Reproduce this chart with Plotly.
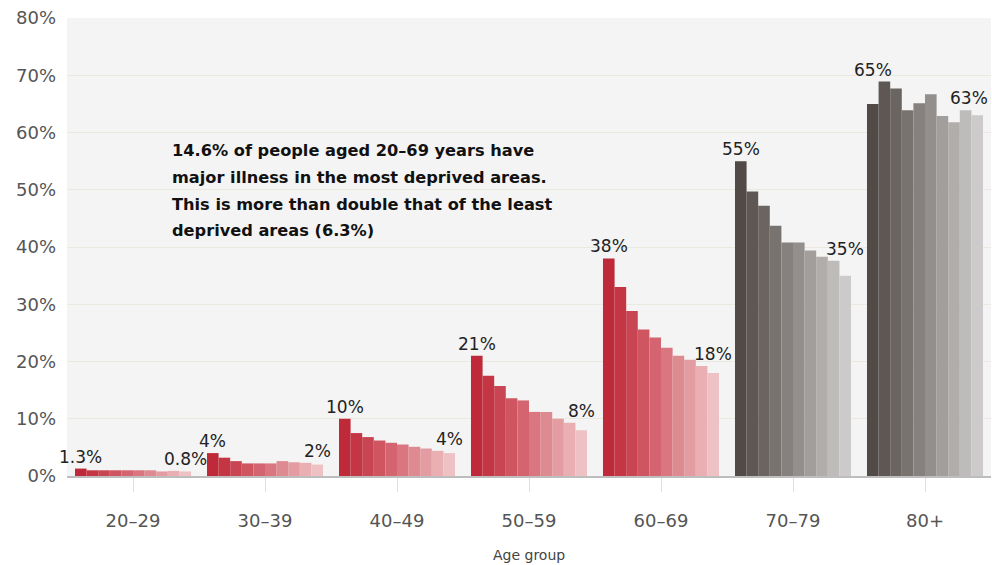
import plotly.graph_objects as go

# Share of people with major illness, by age group and deprivation decile
# (decile 1 = most deprived ... decile 10 = least deprived)
age_groups = ["20–29", "30–39", "40–49", "50–59", "60–69", "70–79", "80+"]
decile_1 = [1.3, 4.0, 10.0, 21.0, 38.0, 55.0, 65.0]
decile_2 = [1.0, 3.2, 7.5, 17.5, 33.0, 49.7, 68.9]
decile_3 = [1.0, 2.6, 6.8, 15.7, 28.8, 47.2, 67.7]
decile_4 = [1.0, 2.2, 6.2, 13.6, 25.6, 43.7, 63.9]
decile_5 = [1.0, 2.2, 5.8, 13.2, 24.2, 40.8, 65.1]
decile_6 = [1.0, 2.2, 5.5, 11.2, 22.4, 40.8, 66.7]
decile_7 = [1.0, 2.6, 5.1, 11.2, 21.0, 39.4, 62.9]
decile_8 = [0.8, 2.4, 4.8, 10.0, 20.3, 38.3, 61.8]
decile_9 = [0.9, 2.3, 4.4, 9.3, 19.2, 37.6, 63.9]
decile_10 = [0.8, 2.0, 4.0, 8.0, 18.0, 35.0, 63.0]
deciles = [decile_1, decile_2, decile_3, decile_4, decile_5,
           decile_6, decile_7, decile_8, decile_9, decile_10]

y_ticks = [0, 10, 20, 30, 40, 50, 60, 70, 80]
y_tick_text = [f"{v}%" for v in y_ticks]

note_lines = [
    "14.6% of people aged 20–69 years have",
    "major illness in the most deprived areas.",
    "This is more than double that of the least",
    "deprived areas (6.3%)",
]

reds = ["#bf2a3a", "#c53645", "#ca4553", "#cf5561", "#d4646f",
        "#d9767f", "#de8a91", "#e39ca2", "#e9afb3", "#eec2c5"]
greys = ["#524a46", "#5e5753", "#6b6562", "#78736f", "#86817e",
         "#938f8d", "#a29e9c", "#b0adab", "#bebbbb", "#cccaca"]

BARGAP = 0.121
n_dec = len(deciles)
bar_w = (1 - BARGAP) / n_dec

fig = go.Figure()
for j, vals in enumerate(deciles):
    colors = [reds[j] if i < 5 else greys[j] for i in range(len(age_groups))]
    fig.add_trace(go.Bar(
        x=age_groups, y=vals, marker=dict(color=colors, line=dict(width=0)),
        name=f"Decile {j + 1}", showlegend=False, hoverinfo="x+y",
    ))

label_font = dict(family="DejaVu Sans", size=17, color="#222222")


def fmt(v):
    return f"{v:g}%"


# value labels above the first and last bar of each age group
n_groups = len(age_groups)
for i, g in enumerate(age_groups):
    first_x = i - (1 - BARGAP) / 2 + 0.5 * bar_w
    last_x = i + (1 - BARGAP) / 2 - 0.5 * bar_w
    first_top = max(decile_1[i], decile_2[i])
    last_top = max(decile_9[i], decile_10[i])
    fig.add_annotation(x=first_x, y=first_top, xref="x", yref="y",
                       text=fmt(decile_1[i]), showarrow=False,
                       yanchor="bottom", yshift=0, font=label_font)
    # keep the right-most label inside the canvas
    edge_shift = -8 if i == n_groups - 1 else 0
    fig.add_annotation(x=last_x, y=last_top, xref="x", yref="y",
                       text=fmt(decile_10[i]), showarrow=False,
                       yanchor="bottom", yshift=0, xshift=edge_shift,
                       font=label_font)

# explanatory note
note_font = dict(family="DejaVu Sans", size=16.2, color="#111111", weight="bold")
for k, line in enumerate(note_lines):
    fig.add_annotation(x=0.1115, y=56.8 - k * 4.65, xref="paper", yref="y",
                       text=line, showarrow=False, xanchor="left",
                       yanchor="middle", font=note_font)

fig.add_annotation(x=0.5, y=-0.172, xref="paper", yref="paper",
                   text="Age group", showarrow=False, yanchor="middle",
                   font=dict(family="DejaVu Sans", size=14, color="#444444"))

fig.update_layout(
    width=992, height=565,
    margin=dict(l=67, r=1, t=18, b=89),
    paper_bgcolor="white",
    plot_bgcolor="#f4f4f4",
    barmode="group", bargap=BARGAP, bargroupgap=0,
    font=dict(family="DejaVu Sans", color="#555555"),
)
fig.update_xaxes(
    automargin=False, range=[-0.5, n_groups - 0.5],
    showgrid=False, showline=True, linecolor="#bdbdbd", linewidth=1.5,
    ticks="outside", ticklen=14, tickcolor="#e0e0e0", tickwidth=1,
    tickfont=dict(family="DejaVu Sans", size=18, color="#555555"),
    ticklabelstandoff=14,
)
fig.update_yaxes(
    automargin=False,
    range=[0, 80], tickvals=y_ticks, ticktext=y_tick_text,
    showgrid=True, gridcolor="#ebe8e0", gridwidth=1,
    zeroline=False, showline=False,
    tickfont=dict(family="DejaVu Sans", size=18, color="#555555"),
    ticklabelstandoff=10,
)

fig.write_html("out.html")
